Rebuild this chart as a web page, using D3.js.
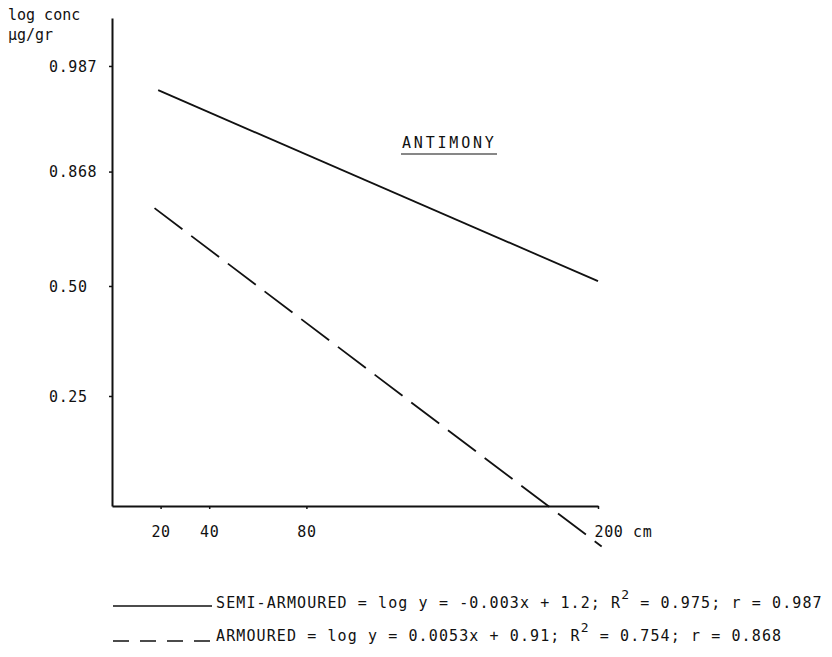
<!DOCTYPE html>
<head>
  <script src="https://cdn.jsdelivr.net/npm/d3@7"></script>
  <style>
    body { margin: 0; background: #fff; }
    text { font-family: "DejaVu Sans Mono", monospace; fill: #111; }
  </style>
</head>
<body>
  <svg width="832" height="657"></svg>
  <script>
    // depth (cm) and log conc (y in axis units)
    const semiX = [19, 200];
    const semiY = [0.945, 0.511];
    const armX = [17.5, 201.5];
    const armY = [0.677, -0.092];

    const xTicks = [20, 40, 80, 200];
    const yTicks = [0.25, 0.5, 0.76, 1.0];
    const yTickLabels = ["0.25", "0.50", "0.868", "0.987"];

    const legendRows = [
      { name: "SEMI-ARMOURED", eq: " = log y = -0.003x + 1.2; R", r2: " = 0.975; r = 0.987", dash: null },
      { name: "ARMOURED", eq: " = log y = 0.0053x + 0.91; R", r2: " = 0.754; r = 0.868", dash: "16,11" }
    ];

    const svg = d3.select("svg");
    const x = d3.scaleLinear().domain([0, 200]).range([112, 598]);
    const y = d3.scaleLinear().domain([0, 1.109]).range([506, 18]);

    // y axis
    const yAxis = svg.append("g")
      .attr("transform", "translate(112,0)")
      .call(d3.axisLeft(y).tickValues(yTicks).tickSize(3).tickSizeOuter(0).tickFormat(""));
    yAxis.select(".domain").attr("stroke", "#111").attr("stroke-width", 2);
    yAxis.selectAll(".tick line").attr("stroke", "#111").attr("stroke-width", 1.5);
    yAxis.selectAll(".tick").append("text")
      .attr("x", -63).attr("dy", "0.35em")
      .attr("text-anchor", "start")
      .style("font-size", "15px").style("letter-spacing", "0.6px")
      .text((d, i) => yTickLabels[i]);

    // x axis
    const xAxis = svg.append("g")
      .attr("transform", "translate(0,506)")
      .call(d3.axisBottom(x).tickValues(xTicks).tickSize(3).tickSizeOuter(0).tickFormat(""));
    xAxis.select(".domain").attr("stroke", "#111").attr("stroke-width", 2);
    xAxis.selectAll(".tick line").attr("stroke", "#111").attr("stroke-width", 1.5);
    xAxis.selectAll(".tick").append("text")
      .attr("y", 31)
      .attr("x", d => d === 200 ? -4 : 0)
      .attr("text-anchor", d => d === 200 ? "start" : "middle")
      .style("font-size", "15px").style("letter-spacing", "0.6px")
      .text(d => d === 200 ? "200 cm" : d);

    // y label
    svg.append("text").attr("x", 8).attr("y", 20).style("font-size", "15px").text("log conc");
    svg.append("text").attr("x", 8).attr("y", 40).style("font-size", "15px").text("µg/gr");

    // title
    svg.append("text").attr("x", 402).attr("y", 148)
      .style("font-size", "15px").style("letter-spacing", "2.8px")
      .text("ANTIMONY");
    svg.append("line").attr("x1", 401).attr("x2", 497).attr("y1", 154).attr("y2", 154)
      .attr("stroke", "#111").attr("stroke-width", 1.2);

    const line = d3.line().x(d => x(d[0])).y(d => y(d[1]));

    svg.append("path")
      .datum(d3.zip(semiX, semiY))
      .attr("d", line)
      .attr("fill", "none").attr("stroke", "#111").attr("stroke-width", 1.8);

    svg.append("path")
      .datum(d3.zip(armX, armY))
      .attr("d", line)
      .attr("fill", "none").attr("stroke", "#111").attr("stroke-width", 1.8)
      .attr("stroke-dasharray", "35,11");

    // legend
    const leg = svg.selectAll(".leg").data(legendRows).enter().append("g")
      .attr("class", "leg")
      .attr("transform", (d, i) => `translate(0,${606 + i * 33})`);
    leg.append("line")
      .attr("x1", 113).attr("x2", 212).attr("y1", (d, i) => i ? 2 : 0).attr("y2", (d, i) => i ? 2 : 0)
      .attr("stroke", "#111").attr("stroke-width", 1.5)
      .attr("stroke-dasharray", d => d.dash);
    const lt = leg.append("text")
      .attr("x", 216).attr("y", 2)
      .style("font-size", "15px").style("letter-spacing", "1.1px");
    lt.append("tspan").text(d => d.name);
    lt.append("tspan").text(d => d.eq);
    lt.append("tspan").attr("dy", -9).style("font-size", "13px").text("2");
    lt.append("tspan").attr("dy", 9).text(d => d.r2);
  </script>
</body>
